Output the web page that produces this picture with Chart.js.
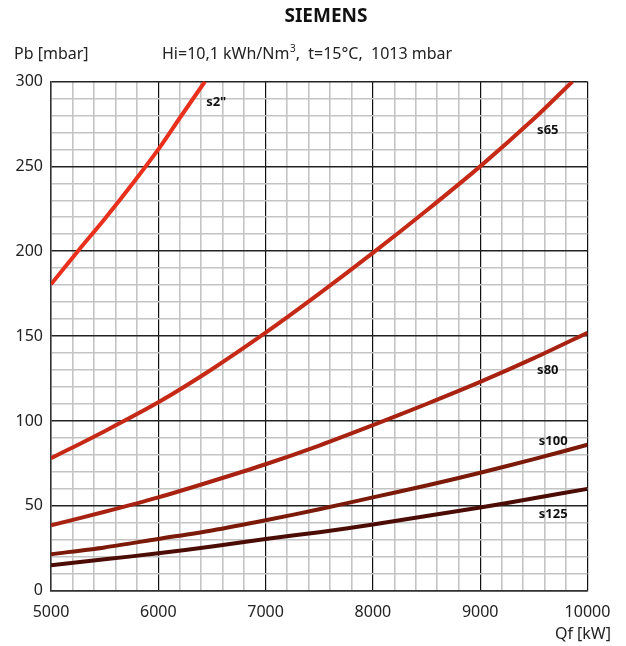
<!DOCTYPE html>
<html>
<head>
<meta charset="utf-8">
<script src="https://cdn.jsdelivr.net/npm/chart.js@4"></script>
<style>
  html, body { margin: 0; padding: 0; background: #fff; }
  #wrap { width: 626px; height: 646px; position: relative; }
</style>
</head>
<body>
<div id="wrap"><canvas id="chart" width="626" height="646"></canvas></div>
<script>
// flow Qf [kW]
const qS2 = [5000, 5250, 5500, 5750, 6000, 6200, 6435];
const pS2 = [180.5, 200, 219, 239, 260, 278.5, 300];

const qFull = [5000, 5500, 6000, 6500, 7000, 7500, 8000, 8500, 9000, 9500, 10000];
const qS65 = [5000, 5500, 6000, 6500, 7000, 7500, 8000, 8500, 9000, 9500, 9860];
const pS65 = [78, 94, 111, 130.5, 152, 175, 199, 224, 250, 278, 300];
const pS80 = [38.5, 46.5, 55, 64.5, 74.5, 85.5, 97.5, 110, 123, 137, 152];
const pS100 = [21.5, 25.5, 30.5, 35.5, 41.5, 48, 55, 62, 69.5, 77.5, 86];
const pS125 = [15, 18.5, 22, 26, 30.5, 34.5, 39, 44, 49, 54.5, 60];

const seriesNames = ['s2"', 's65', 's80', 's100', 's125'];
const seriesColors = ['#e8301c', '#c62a16', '#a82212', '#7c1a0a', '#4c0c06'];
// where each curve name sits (data coords)
const labelQ = [6540, 9630, 9630, 9680, 9680];
const labelP = [288, 271, 130, 88, 45];

function pts(xs, ys) {
    return xs.map((x, i) => ({ x: x, y: ys[i] }));
}

const curves = [pts(qS2, pS2), pts(qS65, pS65), pts(qFull, pS80), pts(qFull, pS100), pts(qFull, pS125)];

const FONT = '"Noto Sans", "Open Sans", sans-serif';

const textPlugin = {
    id: 'texts',
    afterDatasetsDraw(chart) {
        const ctx = chart.ctx;
        const xs = chart.scales.x, ys = chart.scales.y;
        ctx.save();
        ctx.fillStyle = '#111';
        ctx.textBaseline = 'middle';
        ctx.textAlign = 'center';
        ctx.font = 'bold 13px ' + FONT;
        seriesNames.forEach((n, i) => {
            ctx.fillText(n, xs.getPixelForValue(labelQ[i]), ys.getPixelForValue(labelP[i]));
        });
        ctx.font = 'bold 19px ' + FONT;
        ctx.fillText('SIEMENS', 326, 17);
        ctx.textAlign = 'left';
        ctx.fillStyle = '#222';
        ctx.font = '16px ' + FONT;
        ctx.fillText('Pb [mbar]', 14, 54);
        const sub1 = 'Hi=10,1 kWh/Nm';
        ctx.fillText(sub1, 162, 54);
        let w = ctx.measureText(sub1).width;
        ctx.font = '10px ' + FONT;
        ctx.fillText('3', 162 + w + 0.5, 49);
        w += ctx.measureText('3').width + 0.5;
        ctx.font = '16px ' + FONT;
        ctx.fillText(',  t=15°C,  1013 mbar', 162 + w, 54);
        ctx.textAlign = 'right';
        ctx.fillText('Qf [kW]', 611, 634);
        ctx.restore();
    }
};

new Chart(document.getElementById('chart'), {
    type: 'line',
    data: {
        datasets: curves.map((d, i) => ({
            label: seriesNames[i],
            data: d,
            borderColor: seriesColors[i],
            borderWidth: 4,
            pointRadius: 0,
            fill: false,
            tension: 0.3
        }))
    },
    options: {
        responsive: false,
        animation: false,
        layout: { padding: { left: 0, right: 38.5, top: 81.5, bottom: 0 } },
        plugins: { legend: { display: false }, tooltip: { enabled: false } },
        scales: {
            x: {
                type: 'linear',
                min: 5000,
                max: 10000,
                afterFit(s) { s.height = 55.3; },
                ticks: {
                    stepSize: 200,
                    autoSkip: false,
                    maxRotation: 0,
                    padding: 12,
                    color: '#222',
                    font: { family: FONT, size: 16 },
                    callback: v => (v % 1000 === 0 ? String(v) : '')
                },
                grid: {
                    drawTicks: false,
                    color: c => (c.tick && c.tick.value % 1000 === 0 ? '#111' : '#c4c4c4'),
                    lineWidth: c => (c.tick && c.tick.value % 1000 === 0 ? 1.2 : 1.6)
                },
                border: { color: '#333', width: 1.5 }
            },
            y: {
                min: 0,
                max: 300,
                afterFit(s) { s.width = 51; },
                ticks: {
                    stepSize: 10,
                    autoSkip: false,
                    padding: 8,
                    color: '#222',
                    font: { family: FONT, size: 16 },
                    callback: v => (v % 50 === 0 ? String(v) : '')
                },
                grid: {
                    drawTicks: false,
                    color: c => (c.tick && c.tick.value % 50 === 0 ? '#222' : '#c4c4c4'),
                    lineWidth: c => (c.tick && c.tick.value % 50 === 0 ? 1.5 : 1.6)
                },
                border: { color: '#333', width: 1.5 }
            }
        }
    },
    plugins: [textPlugin]
});
</script>
</body>
</html>
